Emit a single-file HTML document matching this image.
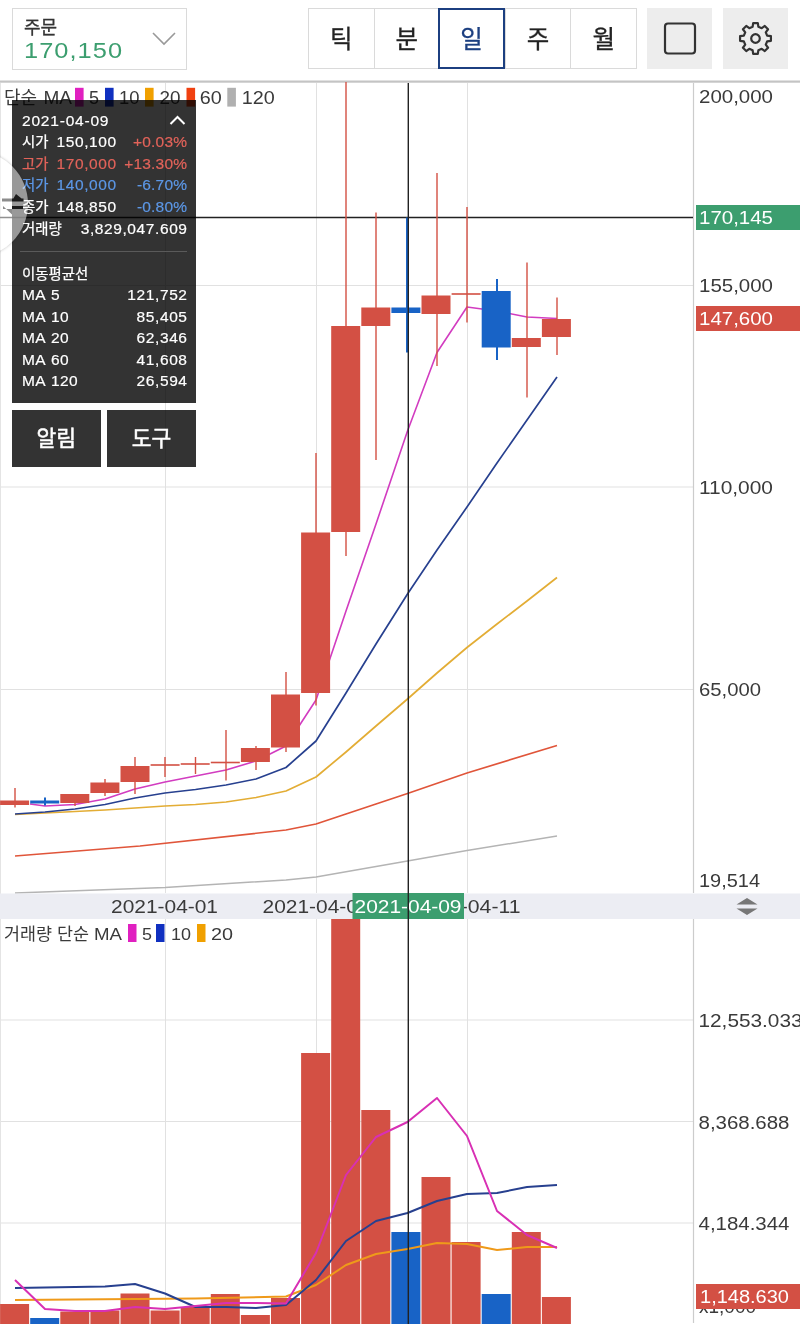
<!DOCTYPE html>
<html lang="ko"><head><meta charset="utf-8"><title>차트</title>
<style>
html,body{margin:0;padding:0;background:#fff;}
body{width:800px;height:1331px;position:relative;overflow:hidden;font-family:'Liberation Sans','Noto Sans CJK KR',sans-serif;color:#333;}
.chart{position:absolute;left:0;top:0;display:block;}
.abs{position:absolute;box-sizing:border-box;}
.order{left:12px;top:8px;width:175px;height:62px;border:1.5px solid #dadada;background:#fff;}
.order .lb{position:absolute;left:11px;top:6.5px;font-size:18px;line-height:24px;color:#333;-webkit-text-stroke:0.3px #333;}
.order .pr{position:absolute;left:11px;top:27.5px;font-size:22px;line-height:28px;color:#3c9e6f;letter-spacing:0.9px;}
.order .pr span{display:inline-block;transform:scaleX(1.155);transform-origin:0 50%;}
.tabs{left:308px;top:8px;width:329px;height:61px;border:1.5px solid #dadada;display:flex;background:#fff;}
.tab{flex:1;border-right:1.5px solid #dadada;font-size:24.5px;line-height:61px;text-align:center;color:#222;-webkit-text-stroke:0.3px #222;}
.tab:last-child{border-right:0;}
.tabsel{left:438px;top:8px;width:67px;height:61px;border:2px solid #1c3f80;font-size:24.5px;line-height:60px;text-align:center;color:#1c3f80;background:#fff;-webkit-text-stroke:0.3px #1c3f80;}
.ibtn{top:8px;width:65px;height:61px;background:#ededed;}
.panel{left:12px;top:100px;width:184px;height:303px;background:rgba(0,0,0,0.8);color:#fff;font-size:15.5px;-webkit-text-stroke:0.2px currentColor;}
.row{position:absolute;left:10px;right:9px;height:22px;line-height:22px;white-space:nowrap;}
.row .r{position:absolute;right:0;top:0;}
.row .m{position:absolute;left:34.5px;top:0;letter-spacing:0.6px;}
.row .k{font-size:14.4px;-webkit-text-stroke:0.25px currentColor;}
.row .p{letter-spacing:0.2px;margin-right:-0.2px;}
.row .v{letter-spacing:0.6px;margin-right:-0.6px;}
.row .l{letter-spacing:0.4px;word-spacing:1px;}
.red{color:#e2635a;} .blu{color:#5c97e6;}
.btn{top:410px;height:57px;background:rgba(0,0,0,0.8);color:#fff;font-size:21.5px;line-height:59px;text-align:center;-webkit-text-stroke:0.5px #fff;}
.handle{left:-78.8px;top:150.6px;width:106.8px;height:106.8px;border-radius:50%;background:rgba(255,255,255,0.5);box-shadow:0 0 3px rgba(0,0,0,0.25);}
</style></head><body>
<svg class="chart" width="800" height="1331" viewBox="0 0 800 1331" font-family='&quot;Liberation Sans&quot;,&quot;Noto Sans CJK KR&quot;,sans-serif'>
<line x1="0" x2="693" y1="285.5" y2="285.5" stroke="#e1e1e1" stroke-width="1"/>
<line x1="0" x2="693" y1="487" y2="487" stroke="#e1e1e1" stroke-width="1"/>
<line x1="0" x2="693" y1="689.5" y2="689.5" stroke="#e1e1e1" stroke-width="1"/>
<line x1="165.5" x2="165.5" y1="83" y2="893" stroke="#e1e1e1" stroke-width="1"/>
<line x1="165.5" x2="165.5" y1="919" y2="1324" stroke="#e1e1e1" stroke-width="1"/>
<line x1="316.5" x2="316.5" y1="83" y2="893" stroke="#e1e1e1" stroke-width="1"/>
<line x1="316.5" x2="316.5" y1="919" y2="1324" stroke="#e1e1e1" stroke-width="1"/>
<line x1="467.5" x2="467.5" y1="83" y2="893" stroke="#e1e1e1" stroke-width="1"/>
<line x1="467.5" x2="467.5" y1="919" y2="1324" stroke="#e1e1e1" stroke-width="1"/>
<line x1="0" x2="693" y1="1020" y2="1020" stroke="#e1e1e1" stroke-width="1"/>
<line x1="0" x2="693" y1="1121.5" y2="1121.5" stroke="#e1e1e1" stroke-width="1"/>
<line x1="0" x2="693" y1="1223" y2="1223" stroke="#e1e1e1" stroke-width="1"/>
<line x1="0.5" x2="0.5" y1="83" y2="1324" stroke="#e4e4e4" stroke-width="1"/>
<line x1="693.5" x2="693.5" y1="83" y2="893" stroke="#cccccc" stroke-width="1.2"/>
<line x1="693.5" x2="693.5" y1="919" y2="1323" stroke="#cccccc" stroke-width="1.2"/>
<rect x="0" y="80.5" width="800" height="2.2" fill="#c4c4c4"/>
<text x="4" y="104" font-size="18" fill="#3a3a3a" text-anchor="start" textLength="33" lengthAdjust="spacingAndGlyphs">단순</text>
<text x="43.5" y="104" font-size="18" fill="#3a3a3a" text-anchor="start" textLength="28.5" lengthAdjust="spacingAndGlyphs">MA</text>
<rect x="75" y="87.8" width="8.6" height="18.8" fill="#e020c0"/>
<text x="89" y="104" font-size="18" fill="#3a3a3a" text-anchor="start" textLength="10" lengthAdjust="spacingAndGlyphs">5</text>
<rect x="105" y="87.8" width="8.6" height="18.8" fill="#1030c0"/>
<text x="119" y="104" font-size="18" fill="#3a3a3a" text-anchor="start" textLength="20.5" lengthAdjust="spacingAndGlyphs">10</text>
<rect x="145" y="87.8" width="8.6" height="18.8" fill="#f0a000"/>
<text x="159.5" y="104" font-size="18" fill="#3a3a3a" text-anchor="start" textLength="21" lengthAdjust="spacingAndGlyphs">20</text>
<rect x="186.5" y="87.8" width="8.6" height="18.8" fill="#f04010"/>
<text x="199.8" y="104" font-size="18" fill="#3a3a3a" text-anchor="start" textLength="22" lengthAdjust="spacingAndGlyphs">60</text>
<rect x="227.3" y="87.8" width="8.6" height="18.8" fill="#b0b0b0"/>
<text x="241.7" y="104" font-size="18" fill="#3a3a3a" text-anchor="start" textLength="33" lengthAdjust="spacingAndGlyphs">120</text>
<line x1="0" x2="693" y1="217.5" y2="217.5" stroke="#222" stroke-width="1.3"/>
<polyline fill="none" stroke="#b4b4b4" stroke-width="1.5" stroke-linejoin="round" points="15,893 165,887.5 286,880 316,877 407.5,861 467,850.5 557,836"/>
<polyline fill="none" stroke="#e0553a" stroke-width="1.7" stroke-linejoin="round" points="15,856 140,846 286,830 316,824 346,814 376,804 407.5,793.5 467,773 557,745.5"/>
<polyline fill="none" stroke="#e3ad35" stroke-width="1.7" stroke-linejoin="round" points="15,814.5 45,813 75,811.5 105,810 135,808 165,806 195.5,804.5 226,802 256,797.5 286,791 316,777 346,752 376,726 407.5,699 437,673 467,647.5 497,624 527,601 557,577.5"/>
<polyline fill="none" stroke="#27408f" stroke-width="1.7" stroke-linejoin="round" points="15,814 45,812 75,809 105,804.5 135,798 165,793 195.5,789.5 226,785 256,779 286,767.5 316,741 346,693 376,644 407.5,594 437,550 467,507 497,463 527,420 557,377"/>
<polyline fill="none" stroke="#d23cc0" stroke-width="1.6" stroke-linejoin="round" points="30,804 45,806 75,804.5 105,799 135,789 165,782 195.5,776 226,770 256,761 286,746 316,700 346,611 376,524 407.5,431 437,352.5 467,307 497,311 527,317 557,318.5"/>
<rect x="14.3" y="788" width="1.4" height="19.5" fill="#d35044"/>
<rect x="0.1" y="800.5" width="29" height="4.5" fill="#d35044"/>
<rect x="44" y="797.5" width="2" height="8" fill="#1863c6"/>
<rect x="30.2" y="800.5" width="29" height="3" fill="#1863c6"/>
<rect x="74.3" y="794" width="1.4" height="12" fill="#d35044"/>
<rect x="60.3" y="794" width="29" height="9" fill="#d35044"/>
<rect x="104.3" y="779" width="1.4" height="17" fill="#d35044"/>
<rect x="90.4" y="782.5" width="29" height="10.5" fill="#d35044"/>
<rect x="134.3" y="757" width="1.4" height="37" fill="#d35044"/>
<rect x="120.5" y="766" width="29" height="16" fill="#d35044"/>
<rect x="164.3" y="757" width="1.4" height="20" fill="#d35044"/>
<rect x="150.6" y="764.2" width="29" height="1.6" fill="#d35044"/>
<rect x="194.8" y="757" width="1.4" height="17" fill="#d35044"/>
<rect x="180.7" y="763.2" width="29" height="1.6" fill="#d35044"/>
<rect x="225.3" y="730" width="1.4" height="50.5" fill="#d35044"/>
<rect x="210.8" y="761.7" width="29" height="1.6" fill="#d35044"/>
<rect x="255.3" y="746" width="1.4" height="24" fill="#d35044"/>
<rect x="240.9" y="748" width="29" height="14" fill="#d35044"/>
<rect x="285.3" y="672" width="1.4" height="80" fill="#d35044"/>
<rect x="271" y="694.5" width="29" height="53" fill="#d35044"/>
<rect x="315.3" y="453" width="1.4" height="252.5" fill="#d35044"/>
<rect x="301.1" y="532.5" width="29" height="160.5" fill="#d35044"/>
<rect x="345.3" y="82" width="1.4" height="474" fill="#d35044"/>
<rect x="331.2" y="326" width="29" height="206" fill="#d35044"/>
<rect x="375.3" y="212.5" width="1.4" height="247.5" fill="#d35044"/>
<rect x="361.3" y="307.5" width="29" height="18.5" fill="#d35044"/>
<rect x="406" y="217.5" width="3" height="135" fill="#1863c6"/>
<rect x="391.4" y="307.5" width="29" height="5.5" fill="#1863c6"/>
<rect x="436.3" y="173" width="1.4" height="193" fill="#d35044"/>
<rect x="421.5" y="295.5" width="29" height="18.5" fill="#d35044"/>
<rect x="466.3" y="207" width="1.4" height="115.5" fill="#d35044"/>
<rect x="451.6" y="293.2" width="29" height="1.6" fill="#d35044"/>
<rect x="496" y="279" width="2" height="81" fill="#1863c6"/>
<rect x="481.7" y="291" width="29" height="56.5" fill="#1863c6"/>
<rect x="526.3" y="262.5" width="1.4" height="135" fill="#d35044"/>
<rect x="511.8" y="338" width="29" height="9" fill="#d35044"/>
<rect x="556.3" y="297.5" width="1.4" height="57.5" fill="#d35044"/>
<rect x="541.9" y="319" width="29" height="18" fill="#d35044"/>
<text x="699" y="102.5" font-size="17.5" fill="#3a3a3a" text-anchor="start" textLength="74" lengthAdjust="spacingAndGlyphs">200,000</text>
<text x="699" y="292" font-size="17.5" fill="#3a3a3a" text-anchor="start" textLength="74" lengthAdjust="spacingAndGlyphs">155,000</text>
<text x="699" y="493.5" font-size="17.5" fill="#3a3a3a" text-anchor="start" textLength="74" lengthAdjust="spacingAndGlyphs">110,000</text>
<text x="699" y="695.5" font-size="17.5" fill="#3a3a3a" text-anchor="start" textLength="62" lengthAdjust="spacingAndGlyphs">65,000</text>
<text x="699" y="887" font-size="17.5" fill="#3a3a3a" text-anchor="start" textLength="61" lengthAdjust="spacingAndGlyphs">19,514</text>
<rect x="696" y="205" width="104" height="25" fill="#3c9e6f"/>
<text x="699" y="224" font-size="17.5" fill="#fff" text-anchor="start" textLength="74" lengthAdjust="spacingAndGlyphs">170,145</text>
<rect x="696" y="306" width="104" height="25" fill="#d35044"/>
<text x="699" y="325" font-size="17.5" fill="#fff" text-anchor="start" textLength="74" lengthAdjust="spacingAndGlyphs">147,600</text>
<rect x="0" y="893.5" width="800" height="25.5" fill="#ecedf3"/>
<text x="111" y="913" font-size="18" fill="#3a3a3a" text-anchor="start" textLength="107" lengthAdjust="spacingAndGlyphs">2021-04-01</text>
<text x="262.5" y="913" font-size="18" fill="#3a3a3a" text-anchor="start" textLength="107" lengthAdjust="spacingAndGlyphs">2021-04-06</text>
<text x="413.5" y="913" font-size="18" fill="#3a3a3a" text-anchor="start" textLength="107" lengthAdjust="spacingAndGlyphs">2021-04-11</text>
<rect x="352.5" y="893" width="111.5" height="26" fill="#3c9e6f"/>
<text x="354.5" y="913" font-size="18" fill="#fff" text-anchor="start" textLength="107" lengthAdjust="spacingAndGlyphs">2021-04-09</text>
<path d="M736.5 904.5 L747 898 L757.5 904.5 Z M736.5 908.5 L757.5 908.5 L747 915 Z" fill="#777"/>
<text x="4" y="940" font-size="17" fill="#3a3a3a" text-anchor="start" textLength="48" lengthAdjust="spacingAndGlyphs">거래량</text>
<text x="57" y="940" font-size="17" fill="#3a3a3a" text-anchor="start" textLength="32" lengthAdjust="spacingAndGlyphs">단순</text>
<text x="94" y="940" font-size="17" fill="#3a3a3a" text-anchor="start" textLength="28" lengthAdjust="spacingAndGlyphs">MA</text>
<rect x="128" y="924" width="8.5" height="18" fill="#e020c0"/>
<text x="142" y="940" font-size="17" fill="#3a3a3a" text-anchor="start" textLength="10" lengthAdjust="spacingAndGlyphs">5</text>
<rect x="156" y="924" width="8.5" height="18" fill="#1030c0"/>
<text x="171" y="940" font-size="17" fill="#3a3a3a" text-anchor="start" textLength="20" lengthAdjust="spacingAndGlyphs">10</text>
<rect x="197" y="924" width="8.5" height="18" fill="#f0a000"/>
<text x="211" y="940" font-size="17" fill="#3a3a3a" text-anchor="start" textLength="22" lengthAdjust="spacingAndGlyphs">20</text>
<rect x="0.1" y="1304" width="29" height="20" fill="#d35044"/>
<rect x="30.2" y="1318" width="29" height="6" fill="#1863c6"/>
<rect x="60.3" y="1311.5" width="29" height="12.5" fill="#d35044"/>
<rect x="90.4" y="1310.5" width="29" height="13.5" fill="#d35044"/>
<rect x="120.5" y="1293.5" width="29" height="30.5" fill="#d35044"/>
<rect x="150.6" y="1310.5" width="29" height="13.5" fill="#d35044"/>
<rect x="180.7" y="1307" width="29" height="17" fill="#d35044"/>
<rect x="210.8" y="1294" width="29" height="30" fill="#d35044"/>
<rect x="240.9" y="1315" width="29" height="9" fill="#d35044"/>
<rect x="271" y="1298" width="29" height="26" fill="#d35044"/>
<rect x="301.1" y="1053" width="29" height="271" fill="#d35044"/>
<rect x="331.2" y="919" width="29" height="405" fill="#d35044"/>
<rect x="361.3" y="1110" width="29" height="214" fill="#d35044"/>
<rect x="391.4" y="1232" width="29" height="92" fill="#1863c6"/>
<rect x="421.5" y="1177" width="29" height="147" fill="#d35044"/>
<rect x="451.6" y="1242" width="29" height="82" fill="#d35044"/>
<rect x="481.7" y="1294" width="29" height="30" fill="#1863c6"/>
<rect x="511.8" y="1232" width="29" height="92" fill="#d35044"/>
<rect x="541.9" y="1297" width="29" height="27" fill="#d35044"/>
<polyline fill="none" stroke="#ef9a1a" stroke-width="2" stroke-linejoin="round" points="15,1300 195.5,1298.5 286,1296.5 316,1285 346,1265 376,1254 407.5,1249 437,1243 467,1244 497,1250 527,1247 557,1247"/>
<polyline fill="none" stroke="#27408f" stroke-width="2" stroke-linejoin="round" points="15,1288 105,1286.5 135,1284 165,1293.5 195.5,1307 226,1307 256,1308 286,1305 316,1280 346,1241 376,1221 407.5,1213 437,1201 467,1194 497,1193 527,1187 557,1185"/>
<polyline fill="none" stroke="#d830b4" stroke-width="2" stroke-linejoin="round" points="15,1280 45,1309 75,1311 105,1311 135,1307 165,1309 195.5,1306 226,1303 256,1303 286,1303.5 316,1253 346,1175 376,1137 407.5,1122 437,1098 467,1136 497,1211 527,1235 557,1248"/>
<text x="698.5" y="1027" font-size="17.5" fill="#3a3a3a" text-anchor="start" textLength="104" lengthAdjust="spacingAndGlyphs">12,553.033</text>
<text x="698.5" y="1128.5" font-size="17.5" fill="#3a3a3a" text-anchor="start" textLength="91" lengthAdjust="spacingAndGlyphs">8,368.688</text>
<text x="698.5" y="1230" font-size="17.5" fill="#3a3a3a" text-anchor="start" textLength="91" lengthAdjust="spacingAndGlyphs">4,184.344</text>
<text x="699" y="1313" font-size="17.5" fill="#3a3a3a" text-anchor="start" textLength="57" lengthAdjust="spacingAndGlyphs">x1,000</text>
<rect x="696" y="1284" width="104" height="25" fill="#d35044"/>
<text x="700" y="1303" font-size="17.5" fill="#fff" text-anchor="start" textLength="89" lengthAdjust="spacingAndGlyphs">1,148.630</text>
<line x1="408.3" x2="408.3" y1="83" y2="1324" stroke="#222" stroke-width="1.4"/>
</svg>
<div class="abs order"><div class="lb">주문</div><div class="pr"><span>170,150</span></div>
<svg class="abs" style="left:138px;top:22px" width="26" height="16" viewBox="0 0 26 16"><path d="M2 2 L13 13 L24 2" fill="none" stroke="#999" stroke-width="1.6"/></svg></div>
<div class="abs tabs"><div class="tab">틱</div><div class="tab">분</div><div class="tab">일</div><div class="tab">주</div><div class="tab">월</div></div>
<div class="abs tabsel">일</div>
<div class="abs ibtn" style="left:647px"><svg width="65" height="61" viewBox="0 0 65 61"><rect x="18" y="15.5" width="30" height="30" rx="3" fill="none" stroke="#333" stroke-width="2.2"/></svg></div>
<div class="abs ibtn" style="left:723px"><svg width="65" height="61" viewBox="0 0 65 61"><g transform="translate(32.5,30.5)" fill="none" stroke="#333" stroke-width="2.2" stroke-linejoin="round"><path d="M15.43 -2.32 L15.43 2.32 L11.65 2.89 L10.28 6.19 L12.55 9.27 L9.27 12.55 L6.19 10.28 L2.89 11.65 L2.32 15.43 L-2.32 15.43 L-2.89 11.65 L-6.19 10.28 L-9.27 12.55 L-12.55 9.27 L-10.28 6.19 L-11.65 2.89 L-15.43 2.32 L-15.43 -2.32 L-11.65 -2.89 L-10.28 -6.19 L-12.55 -9.27 L-9.27 -12.55 L-6.19 -10.28 L-2.89 -11.65 L-2.32 -15.43 L2.32 -15.43 L2.89 -11.65 L6.19 -10.28 L9.27 -12.55 L12.55 -9.27 L10.28 -6.19 L11.65 -2.89 Z"/><circle r="4.3"/></g></svg></div>

<div class="abs panel">
<div class="row" style="top:10px"><span class="d" style="letter-spacing:0.8px">2021-04-09</span><svg class="abs" style="right:1px;top:4px" width="17" height="12" viewBox="0 0 17 12"><path d="M1.5 10 L8.5 3 L15.5 10" fill="none" stroke="#fff" stroke-width="2"/></svg></div>
<div class="row" style="top:31px"><span class="k">시가</span><span class="m">150,100</span><span class="r red p">+0.03%</span></div>
<div class="row red" style="top:53px"><span class="k">고가</span><span class="m">170,000</span><span class="r p">+13.30%</span></div>
<div class="row blu" style="top:74px"><span class="k">저가</span><span class="m">140,000</span><span class="r p">-6.70%</span></div>
<div class="row" style="top:96px"><span class="k">종가</span><span class="m">148,850</span><span class="r blu p">-0.80%</span></div>
<div class="row" style="top:118px"><span class="k">거래량</span><span class="r v">3,829,047.609</span></div>
<div class="abs" style="left:8px;right:9px;top:151px;height:1px;background:#5a5a5a"></div>
<div class="row" style="top:163px"><span class="k">이동평균선</span></div>
<div class="row" style="top:184px"><span class="l">MA 5</span><span class="r v">121,752</span></div>
<div class="row" style="top:206px"><span class="l">MA 10</span><span class="r v">85,405</span></div>
<div class="row" style="top:227px"><span class="l">MA 20</span><span class="r v">62,346</span></div>
<div class="row" style="top:249px"><span class="l">MA 60</span><span class="r v">41,608</span></div>
<div class="row" style="top:270px"><span class="l">MA 120</span><span class="r v">26,594</span></div>
</div>
<div class="abs btn" style="left:12px;width:88.5px">알림</div>
<div class="abs btn" style="left:107px;width:89px">도구</div>
<div class="abs handle"></div>
<svg class="abs" style="left:0;top:190px" width="28" height="28" viewBox="0 0 28 28"><defs><clipPath id="cl"><rect x="0" y="0" width="12" height="28"/></clipPath><clipPath id="cr"><rect x="12" y="0" width="16" height="28"/></clipPath></defs>
<g clip-path="url(#cl)" fill="#8c8c8c"><path d="M2 8.5 h21.5 v3 h-21.5 Z M3 16 h20 v2.9 h-20 Z M3 16 L12 24.5 L12 16 Z"/></g>
<g clip-path="url(#cr)" fill="#1c1c1c"><path d="M2 8.5 h21.5 v3 h-21.5 Z M16 4 L23.5 10 L12.5 10 Z M3 16 h20 v2.9 h-20 Z"/></g></svg>
</body></html>
